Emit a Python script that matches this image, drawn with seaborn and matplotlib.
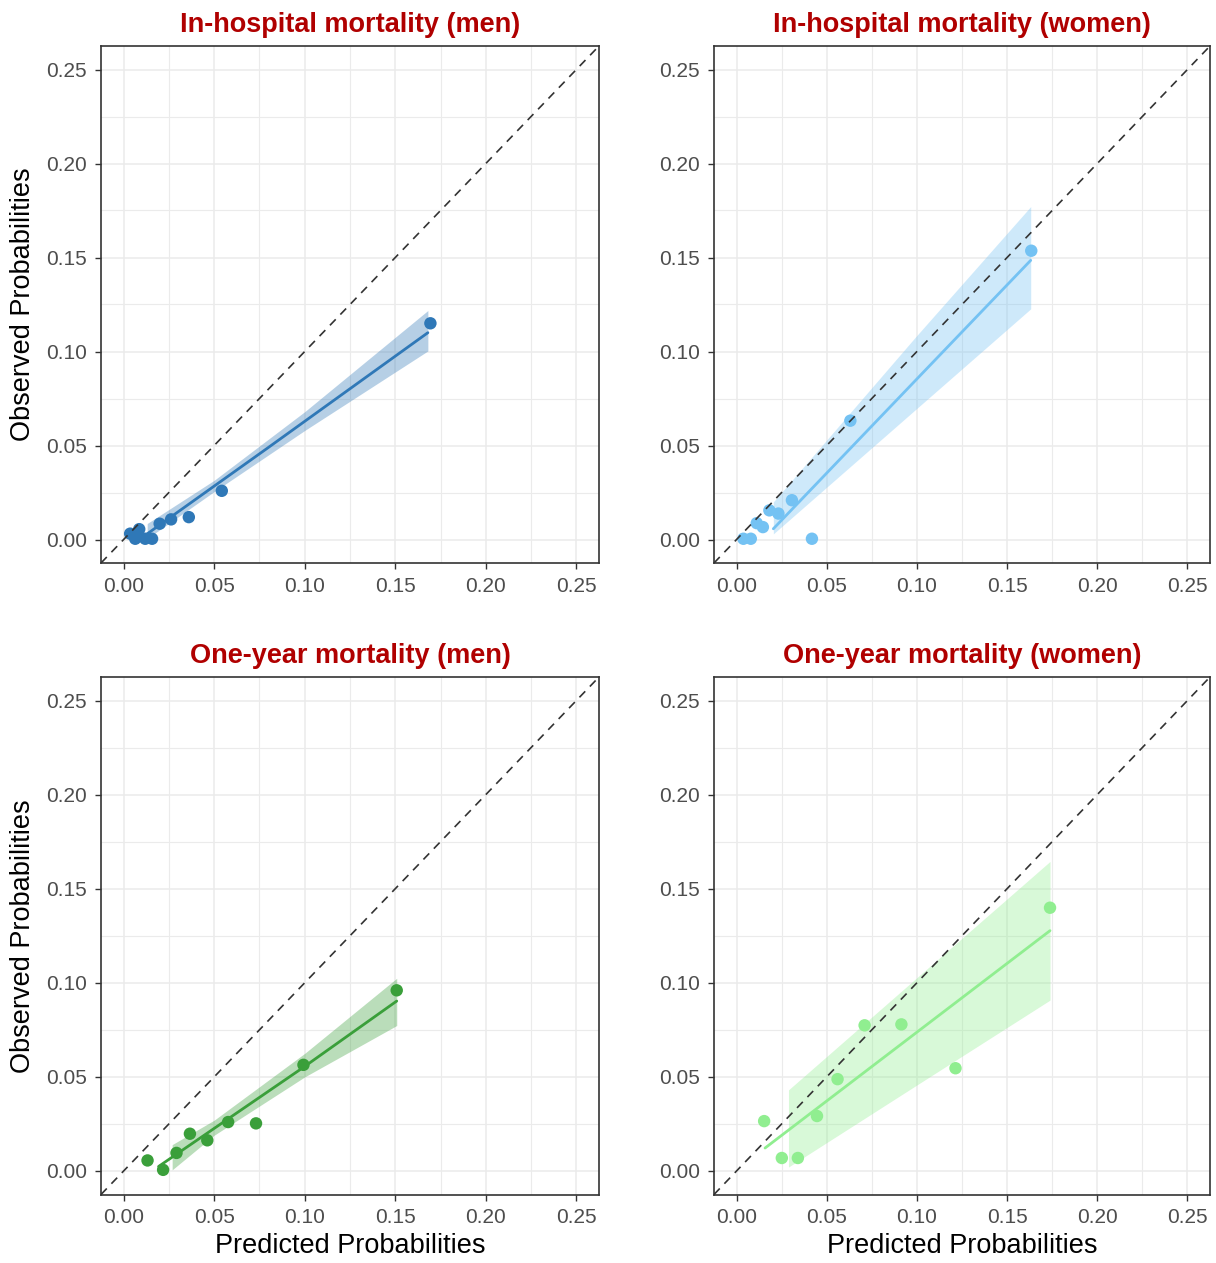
import matplotlib
matplotlib.use("Agg")
import matplotlib.pyplot as plt
import seaborn as sns
import numpy as np
from matplotlib.ticker import MultipleLocator, FormatStrFormatter

# ---------------- data ----------------
titles = ["In-hospital mortality (men)", "In-hospital mortality (women)",
          "One-year mortality (men)", "One-year mortality (women)"]
colors = ["#2F78B7", "#74C2F3", "#3A9F3A", "#90EE90"]
x_label = "Predicted Probabilities"
y_label = "Observed Probabilities"
tick_values = [0.00, 0.05, 0.10, 0.15, 0.20, 0.25]

# In-hospital (men)
p1_pred = [0.1694, 0.0542, 0.0360, 0.0262, 0.0199, 0.0086, 0.0036, 0.0064, 0.0119, 0.0157]
p1_obs = [0.1150, 0.0259, 0.0119, 0.0107, 0.0084, 0.0055, 0.0031, 0.0004, 0.0004, 0.0004]
p1_fit_x = [0.013, 0.080, 0.168]
p1_fit_y = [0.003, 0.049, 0.110]
p1_band_x = [0.013, 0.050, 0.100, 0.168]
p1_band_lo = [0.0005, 0.0255, 0.0580, 0.1003]
p1_band_hi = [0.0085, 0.0315, 0.0680, 0.1218]

# In-hospital (women)
p2_pred = [0.1634, 0.0631, 0.0307, 0.0232, 0.0182, 0.0146, 0.0112, 0.0038, 0.0079, 0.0418]
p2_obs = [0.1536, 0.0632, 0.0209, 0.0138, 0.0155, 0.0066, 0.0087, 0.0004, 0.0004, 0.0004]
p2_fit_x = [0.0204, 0.0992, 0.1631]
p2_fit_y = [0.0057, 0.0846, 0.1485]
p2_band_x = [0.0204, 0.0992, 0.1631]
p2_band_lo = [0.0030, 0.0691, 0.1227]
p2_band_hi = [0.0200, 0.1077, 0.1771]

# One-year (men)
p3_pred = [0.1508, 0.0993, 0.0731, 0.0577, 0.0462, 0.0366, 0.0292, 0.0218, 0.0132]
p3_obs = [0.0960, 0.0564, 0.0253, 0.0260, 0.0163, 0.0198, 0.0096, 0.0006, 0.0056]
p3_fit_x = [0.0193, 0.0993, 0.1508]
p3_fit_y = [0.0024, 0.0551, 0.0903]
p3_band_x = [0.0268, 0.0500, 0.1000, 0.1508]
p3_band_lo = [0.0006, 0.0190, 0.0500, 0.0773]
p3_band_hi = [0.0140, 0.0270, 0.0625, 0.1024]

# One-year (women)
p4_pred = [0.1738, 0.1214, 0.0914, 0.0710, 0.0560, 0.0446, 0.0340, 0.0251, 0.0153]
p4_obs = [0.1399, 0.0546, 0.0779, 0.0774, 0.0488, 0.0292, 0.0069, 0.0069, 0.0265]
p4_fit_x = [0.0158, 0.1738]
p4_fit_y = [0.0122, 0.1277]
p4_band_x = [0.0288, 0.0990, 0.1738]
p4_band_lo = [0.0021, 0.0451, 0.0908]
p4_band_hi = [0.0431, 0.1019, 0.1645]

panels = [
    (p1_pred, p1_obs, p1_fit_x, p1_fit_y, p1_band_x, p1_band_lo, p1_band_hi),
    (p2_pred, p2_obs, p2_fit_x, p2_fit_y, p2_band_x, p2_band_lo, p2_band_hi),
    (p3_pred, p3_obs, p3_fit_x, p3_fit_y, p3_band_x, p3_band_lo, p3_band_hi),
    (p4_pred, p4_obs, p4_fit_x, p4_fit_y, p4_band_x, p4_band_lo, p4_band_hi),
]

# ---------------- style ----------------
sns.set_theme(style="white")
plt.rcParams["font.family"] = ["Liberation Sans", "DejaVu Sans"]

W, H = 1216, 1263
fig = plt.figure(figsize=(W / 100, H / 100), dpi=100)
fig.patch.set_facecolor("white")

# axes boxes in pixels: left, top, right, bottom
boxes = [(101, 46, 599, 563), (714, 46, 1210, 563),
         (101, 677, 599, 1194.5), (714, 677, 1210, 1194.5)]

lim = (-0.0125, 0.2625)
for i, (box, data) in enumerate(zip(boxes, panels)):
    l, t, r, b = box
    ax = fig.add_axes([l / W, 1 - b / H, (r - l) / W, (b - t) / H])
    pred, obs, fx, fy, bx, blo, bhi = data
    c = colors[i]

    ax.set_xlim(*lim)
    ax.set_ylim(*lim)
    ax.set_facecolor("white")

    ax.xaxis.set_minor_locator(MultipleLocator(0.025))
    ax.yaxis.set_minor_locator(MultipleLocator(0.025))
    ax.set_xticks(tick_values)
    ax.set_yticks(tick_values)
    ax.xaxis.set_major_formatter(FormatStrFormatter("%.2f"))
    ax.yaxis.set_major_formatter(FormatStrFormatter("%.2f"))
    ax.grid(True, which="major", color="#EBEBEB", lw=1.1, zorder=0)
    ax.grid(True, which="minor", color="#EBEBEB", lw=0.8, zorder=0)
    ax.set_axisbelow(True)

    ax.tick_params(which="major", direction="out", length=4.5, width=1.0,
                   color="#333333", labelcolor="#4D4D4D", labelsize=15, pad=5.5,
                   bottom=True, left=True)
    ax.tick_params(which="minor", length=0)
    for sp in ax.spines.values():
        sp.set_color("#333333")
        sp.set_linewidth(1.2)

    # band, fit line, points
    ax.fill_between(bx, blo, bhi, color=c, alpha=0.35, lw=0, zorder=2)
    sns.lineplot(x=fx, y=fy, color=c, lw=2.0, ax=ax, zorder=3)
    sns.scatterplot(x=pred, y=obs, color=c, s=80, edgecolor="none", ax=ax, zorder=4)

    # reference line
    ax.axline((0, 0), slope=1, color="#333333", lw=1.2, ls=(0, (5, 4)), zorder=5)

    ax.set_title(titles[i], fontsize=19.5, fontweight="bold", color="#B00000", pad=10)
    if i in (0, 2):
        ax.set_ylabel(y_label, fontsize=19.5, color="black", labelpad=7)
    else:
        ax.set_ylabel("")
    if i in (2, 3):
        ax.set_xlabel(x_label, fontsize=19.5, color="black", labelpad=4)
    else:
        ax.set_xlabel("")

fig.savefig("out.png", dpi=100, facecolor="white")
